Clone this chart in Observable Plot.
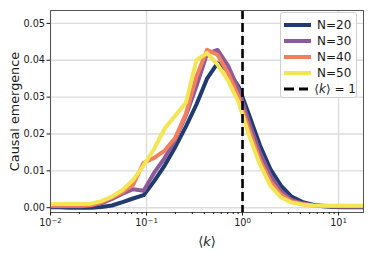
<!DOCTYPE html>
<html>
<head>
<meta charset="utf-8">
<script src="https://cdn.jsdelivr.net/npm/d3@7"></script>
<script src="https://cdn.jsdelivr.net/npm/@observablehq/plot@0.6"></script>
<style>
  html, body { margin: 0; padding: 0; background: #fff; }
  #wrap { position: relative; width: 373px; height: 253px; font-family: "DejaVu Sans", sans-serif; }
  #legend { position: absolute; left: 280px; top: 12px; width: 77px; height: 86px;
    border: 1px solid #d0d0d0; border-radius: 3px; background: rgba(255,255,255,0.85);
    box-sizing: border-box; padding-top: 4px; }
  .row { height: 16px; display: flex; align-items: center; font-size: 12px; color: #1a1a1a; white-space: nowrap; }
  .sw { width: 27px; height: 6px; margin-left: 3px; margin-right: 6px; display: block; }
</style>
</head>
<body>
<div id="wrap"></div>
<script>
// Mean degree <k> sample points
const kValues = [0.00955, 0.01230, 0.01585, 0.02042, 0.02630, 0.03388, 0.04365, 0.05623, 0.07244, 0.09333,
  0.1202, 0.1549, 0.1995, 0.2570, 0.3311, 0.4266, 0.5495, 0.7079, 0.9120, 1.175,
  1.514, 1.950, 2.512, 3.236, 4.169, 5.370, 6.918, 8.913, 11.48, 14.79, 19.05];

const ce20 = [0.0001, 0.0001, 0.0000, 0.0000, 0.0000, 0.0002, 0.0006, 0.0015, 0.0025, 0.0034,
  0.0072, 0.0115, 0.0165, 0.0220, 0.0280, 0.0350, 0.0392, 0.0372, 0.0328, 0.0250,
  0.0170, 0.0105, 0.0060, 0.0030, 0.0016, 0.0008, 0.0004, 0.0002, 0.0001, 0.0001, 0.0001];
const ce30 = [0.0004, 0.0004, 0.0004, 0.0004, 0.0006, 0.0012, 0.0024, 0.0038, 0.0050, 0.0046,
  0.0095, 0.0135, 0.0185, 0.0250, 0.0330, 0.0418, 0.0428, 0.0385, 0.0320, 0.0230,
  0.0150, 0.0087, 0.0045, 0.0021, 0.0012, 0.0007, 0.0005, 0.0004, 0.0003, 0.0003, 0.0003];
const ce40 = [0.0005, 0.0005, 0.0005, 0.0005, 0.0007, 0.0015, 0.0028, 0.0042, 0.0062, 0.0122,
  0.0135, 0.0155, 0.0190, 0.0255, 0.0355, 0.0428, 0.0415, 0.0365, 0.0300, 0.0210,
  0.0130, 0.0072, 0.0036, 0.0017, 0.0010, 0.0006, 0.0005, 0.0004, 0.0004, 0.0004, 0.0004];
const ce50 = [0.0010, 0.0010, 0.0010, 0.0010, 0.0011, 0.0018, 0.0030, 0.0048, 0.0075, 0.0115,
  0.0160, 0.0215, 0.0250, 0.0285, 0.0400, 0.0420, 0.0388, 0.0345, 0.0285, 0.0195,
  0.0118, 0.0060, 0.0028, 0.0014, 0.0009, 0.0006, 0.0005, 0.0005, 0.0005, 0.0005, 0.0005];

const seriesNames = ["N=20", "N=30", "N=40", "N=50"];
const seriesColors = ["#1f3b70", "#8c5b99", "#f37f5e", "#f3e553"];
const seriesValues = [ce20, ce30, ce40, ce50];

const xMajorTicks = [0.01, 0.1, 1, 10];
const xMajorExponents = ["\u22122", "\u22121", "0", "1"];
const xMinorTicks = [0.02,0.03,0.04,0.05,0.06,0.07,0.08,0.09,0.2,0.3,0.4,0.5,0.6,0.7,0.8,0.9,2,3,4,5,6,7,8,9];
const yTicks = [0, 0.01, 0.02, 0.03, 0.04, 0.05];
const criticalK = [1];

const rows = [];
seriesNames.forEach((name, i) => {
  kValues.forEach((k, j) => rows.push({k, v: seriesValues[i][j], N: name}));
});

const grid = {stroke: "#dcdcdc", strokeOpacity: 1, strokeWidth: 1.4};

const chart = Plot.plot({
  width: 373,
  height: 253,
  marginLeft: 50,
  marginRight: 10,
  marginTop: 10,
  marginBottom: 41,
  style: {fontFamily: "DejaVu Sans", fontSize: "9.7px", color: "#1a1a1a", background: "#fff"},
  x: {type: "log", domain: [0.01, 18.2]},
  y: {domain: [-0.0013, 0.0535]},
  color: {domain: seriesNames, range: seriesColors},
  marks: [
    Plot.gridY(yTicks, grid),
    Plot.gridX(xMajorTicks, grid),
    Plot.line(rows, {x: "k", y: "v", z: "N", stroke: "N", strokeWidth: 4, clip: true}),
    Plot.ruleX(criticalK, {stroke: "#000", strokeWidth: 2.6, strokeDasharray: "9,4"}),
    Plot.frame({stroke: "#555", strokeWidth: 1}),
    Plot.axisY({ticks: yTicks, tickFormat: d3.format(".2f"), tickSize: 3.5, tickPadding: 2, label: null}),
    Plot.axisX({ticks: xMajorTicks, tickFormat: (d) => "10^" + xMajorExponents[xMajorTicks.indexOf(d)], tickSize: 3.5, tickPadding: 3, label: null}),
    Plot.axisX({ticks: xMinorTicks, tickFormat: () => "", tickSize: 2, label: null}),
    Plot.axisY({ticks: [], label: "Causal emergence", labelAnchor: "center", labelArrow: "none", labelOffset: 41}),
    Plot.axisX({ticks: [], label: "⟨k⟩", labelAnchor: "center", labelArrow: "none", labelOffset: 33})
  ]
});

document.getElementById("wrap").appendChild(chart);

// axis label font size, italic k, superscript tick exponents
d3.select(chart).selectAll("text").each(function() {
  const txt = this.textContent;
  const t = d3.select(this);
  if (txt === "⟨k⟩") {
    t.style("font-size", "13px");
    t.text(null);
    t.append("tspan").text("⟨");
    t.append("tspan").attr("font-style", "italic").text("k");
    t.append("tspan").text("⟩");
  } else if (txt === "Causal emergence") {
    t.style("font-size", "12.8px");
  } else if (txt.startsWith("10^")) {
    const exp = txt.slice(3);
    t.text(null);
    t.append("tspan").text("10");
    t.append("tspan").attr("dy", "-0.45em").style("font-size", "7px").text(exp);
  }
});

// legend
const legend = d3.select("#wrap").append("div").attr("id", "legend");
function swatch(row, color, dash, width) {
  const s = row.append("svg").attr("class", "sw").attr("width", 27).attr("height", 6);
  s.append("line").attr("x1", 0).attr("x2", 27).attr("y1", 3).attr("y2", 3)
    .attr("stroke", color).attr("stroke-width", width).attr("stroke-dasharray", dash);
}
seriesNames.forEach((name, i) => {
  const r = legend.append("div").attr("class", "row");
  swatch(r, seriesColors[i], null, 4);
  r.append("span").text(name);
});
const r5 = legend.append("div").attr("class", "row");
swatch(r5, "#000", "10,5", 2.8);
r5.append("span").html("⟨<i>k</i>⟩ = 1");
</script>
</body>
</html>
